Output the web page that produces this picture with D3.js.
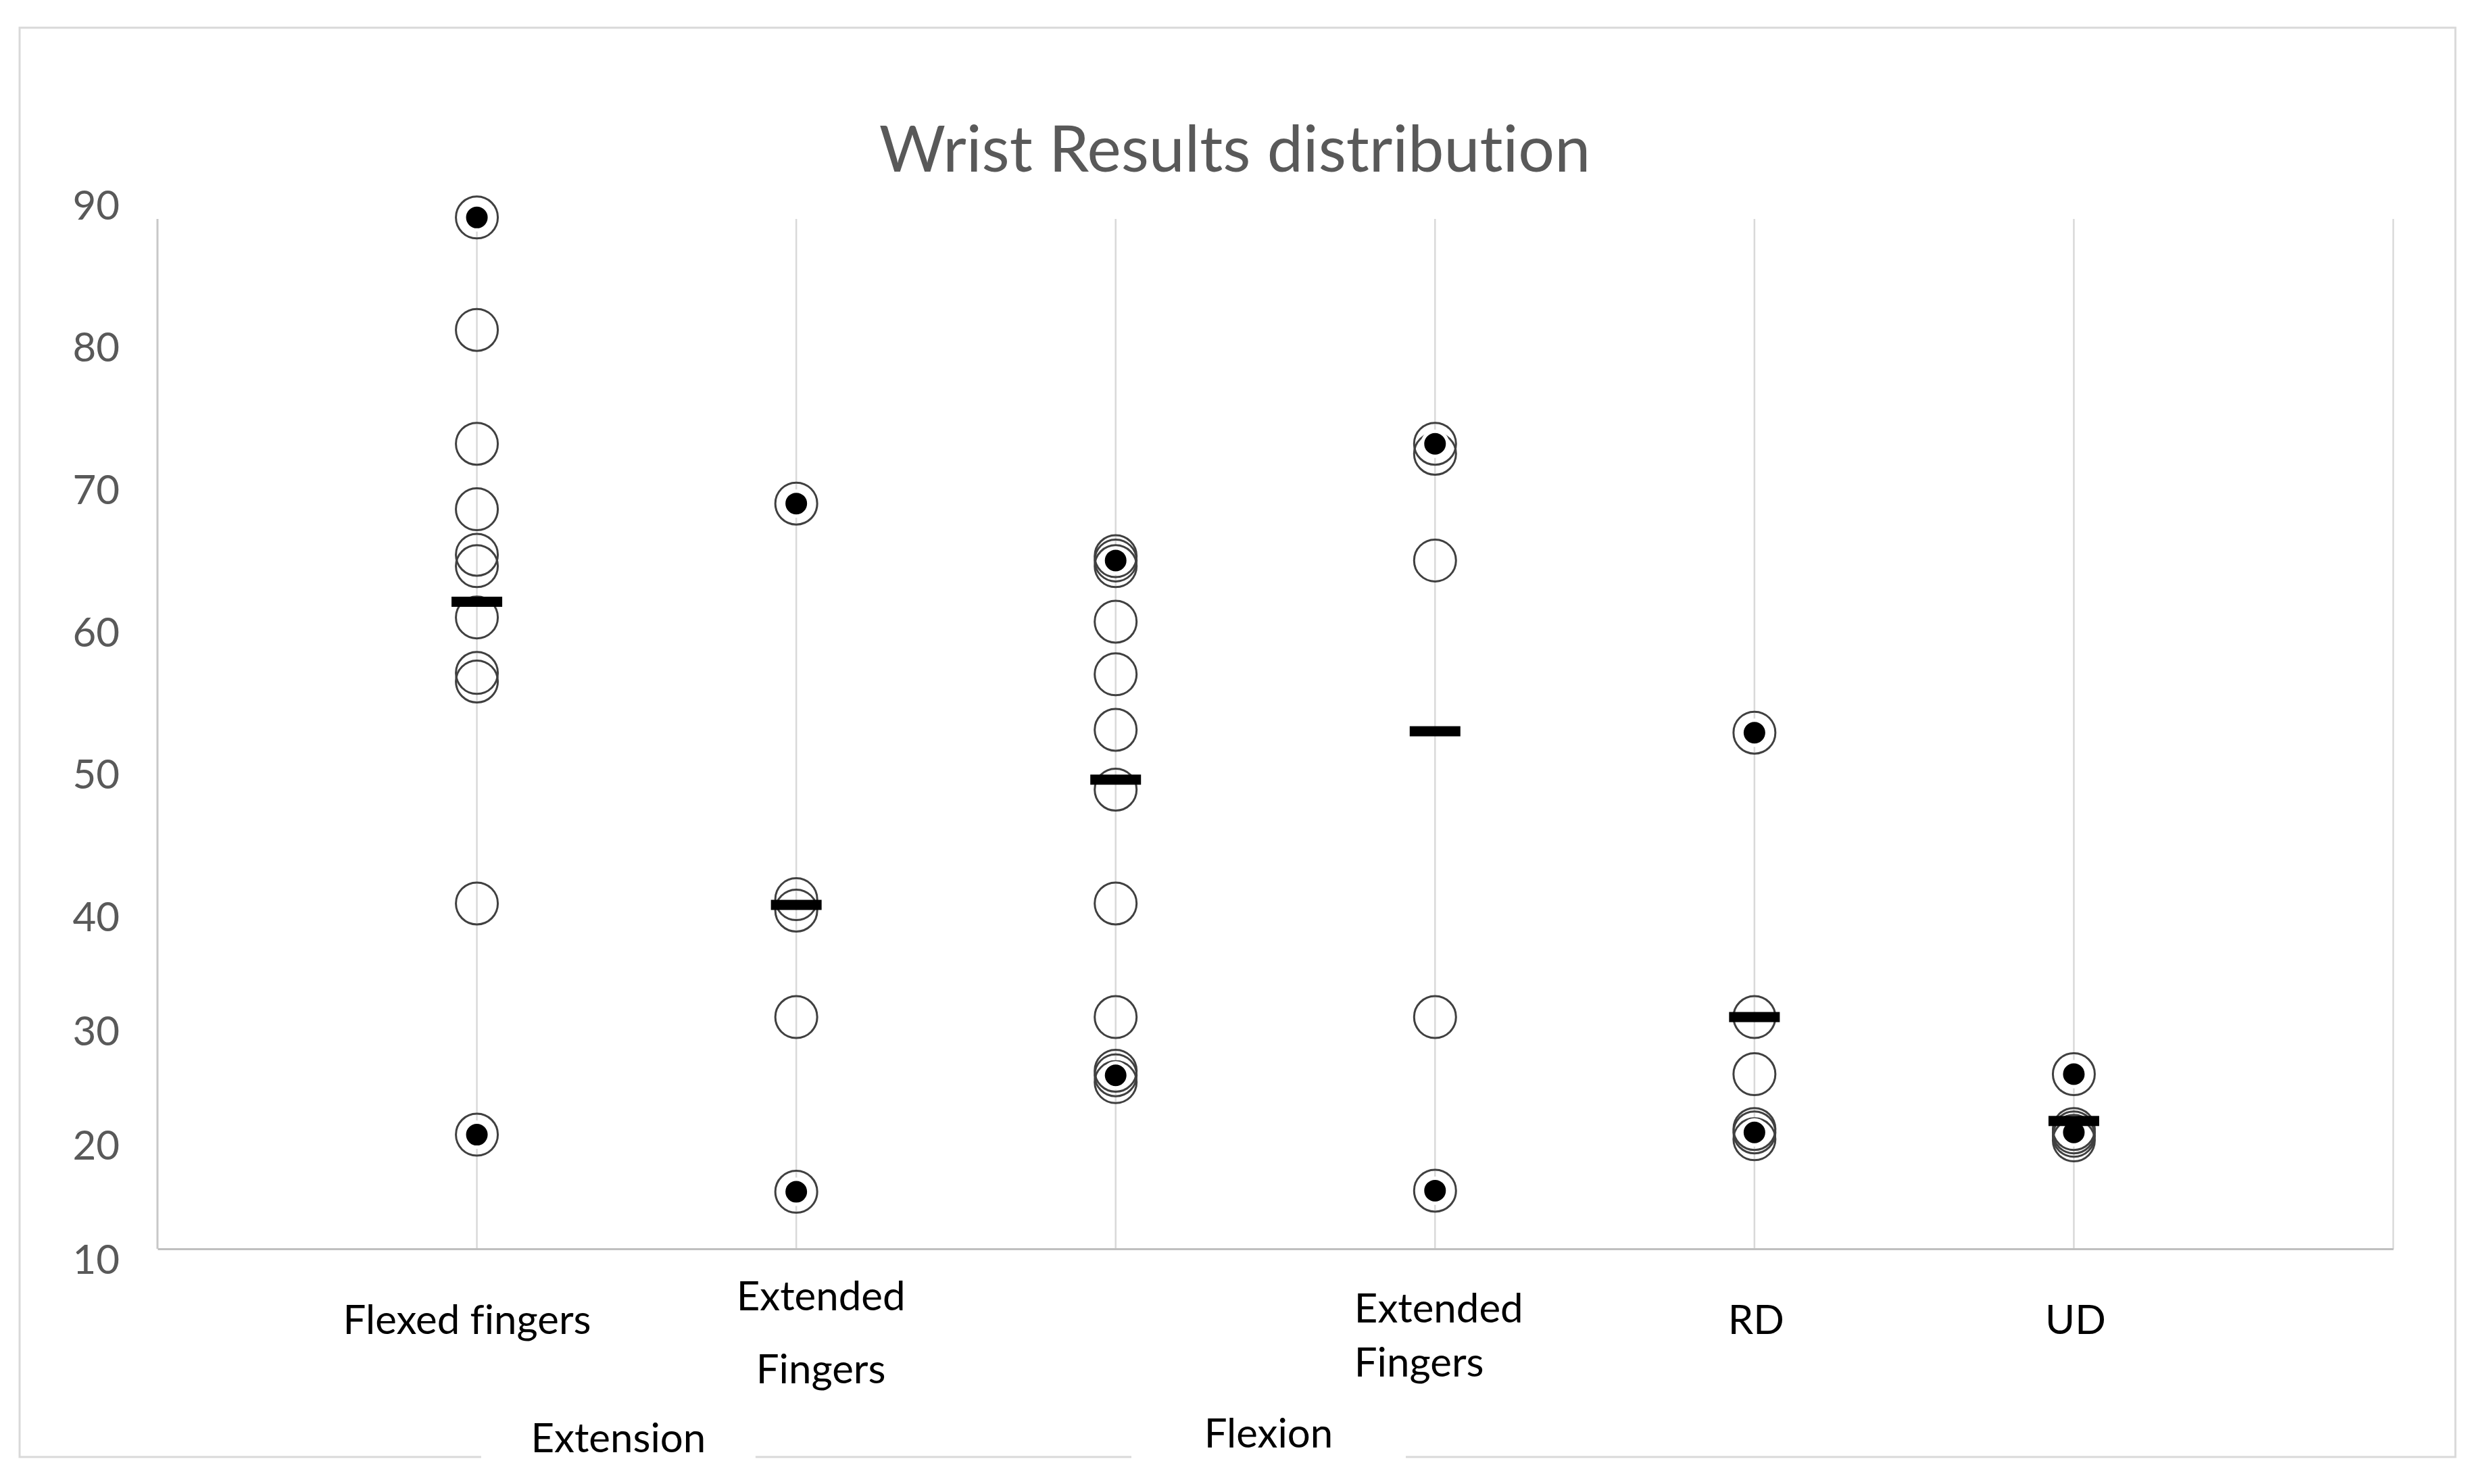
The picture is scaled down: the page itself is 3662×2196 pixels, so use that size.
<!DOCTYPE html>
<html>
<head>
<meta charset="utf-8">
<script src="https://cdn.jsdelivr.net/npm/d3@7"></script>
<style>
  body { margin: 0; background: #fff; }
  text { font-variant-ligatures: none; }
</style>
</head>
<body>
<div id="chart"></div>
<script>
// ---- data ----
var categories = ["Flexed fingers", "Extended Fingers", "", "Extended Fingers", "RD", "UD"];
var groups = ["Extension", "Flexion"];
var yTicks = [10, 20, 30, 40, 50, 60, 70, 80, 90];

// every measurement per category (open circles)
var flexedFingersExt = [89.2, 81.3, 73.3, 68.7, 65.5, 64.7, 61.1, 57.2, 56.6, 41.0, 21.0];
var extendedFingersExt = [69.1, 41.3, 40.5, 31.3, 16.0];
var flexedFingersFlex = [65.4, 65.1, 64.7, 60.8, 57.1, 53.2, 49.0, 41.0, 31.3, 26.6, 26.2, 25.6];
var extendedFingersFlex = [73.3, 72.6, 65.1, 31.3, 16.1];
var radialDev = [53.0, 31.3, 26.3, 21.5, 21.2, 20.6];
var ulnarDev = [26.3, 21.5, 21.2, 20.9, 20.5];

// highlighted extremes (filled dots) and mean dash per category
var maxValues = [89.2, 69.1, 65.1, 73.3, 53.0, 26.3];
var minValues = [21.0, 16.0, 26.2, 16.1, 21.2, 21.2];
var meanValues = [62.2, 40.9, 49.7, 53.1, 31.3, 22.2];

// ---- layout ----
var svgWidth = 3662;
var svgHeight = 2196;
var plotLeft = 233, plotRight = 3541, plotTop = 324, plotBottom = 1848;
var font = "Lato, 'Open Sans', sans-serif";

var svg = d3.select("#chart")
  .append("svg")
  .attr("width", svgWidth)
  .attr("height", svgHeight)
  .style("background", "#fff");

var x = d3.scaleLinear()
  .domain([0, categories.length + 1])
  .range([plotLeft, plotRight]);

// the printed value labels are spaced unevenly, so the scale bends at 40
var y = d3.scaleLinear()
  .domain([10, 40, 90])
  .range([1865, 1358, 305]);

// outer chart border, open at the bottom where the group labels sit
var border = { left: 29, right: 3633, top: 41, bottom: 2156 };
var groupCenters = [x(1.5) - 27, x(3.5) - 10];
var gapHalf = 203;
var borderPath = d3.path();
borderPath.moveTo(groupCenters[0] - gapHalf, border.bottom);
borderPath.lineTo(border.left, border.bottom);
borderPath.lineTo(border.left, border.top);
borderPath.lineTo(border.right, border.top);
borderPath.lineTo(border.right, border.bottom);
borderPath.lineTo(groupCenters[1] + gapHalf, border.bottom);
borderPath.moveTo(groupCenters[0] + gapHalf, border.bottom);
borderPath.lineTo(groupCenters[1] - gapHalf, border.bottom);

svg.append("path")
  .attr("d", borderPath.toString())
  .attr("fill", "none")
  .attr("stroke", "#d9d9d9")
  .attr("stroke-width", 3);

// title
svg.append("text")
  .attr("x", 1827)
  .attr("y", 254)
  .attr("text-anchor", "middle")
  .attr("font-family", font)
  .attr("font-size", 95)
  .attr("fill", "#595959")
  .text("Wrist Results distribution");

// vertical gridlines
svg.append("g")
  .selectAll("line")
  .data(d3.range(1, categories.length + 2))
  .enter()
  .append("line")
  .attr("x1", d => x(d))
  .attr("x2", d => x(d))
  .attr("y1", plotTop)
  .attr("y2", plotBottom)
  .attr("stroke", "#d9d9d9")
  .attr("stroke-width", 2.5);

// left axis line
svg.append("line")
  .attr("x1", plotLeft)
  .attr("x2", plotLeft)
  .attr("y1", plotTop)
  .attr("y2", plotBottom)
  .attr("stroke", "#c8c8c8")
  .attr("stroke-width", 3);

// y axis labels
var leftAxis = d3.axisLeft(y).tickValues(yTicks).tickSize(0).tickPadding(56);
var yAxisG = svg.append("g")
  .attr("transform", `translate(${plotLeft}, 0)`)
  .call(leftAxis);
yAxisG.select(".domain").remove();
yAxisG.selectAll("text")
  .attr("font-family", font)
  .attr("font-size", 60)
  .attr("fill", "#595959");

// bottom axis line + category labels
var bottomAxis = d3.axisBottom(x)
  .tickValues(d3.range(1, categories.length + 1))
  .tickSize(0)
  .tickSizeOuter(0)
  .tickFormat(d => categories[d - 1]);
var xAxisG = svg.append("g")
  .attr("transform", `translate(0, ${plotBottom})`)
  .call(bottomAxis);
xAxisG.select(".domain")
  .attr("stroke", "#bfbfbf")
  .attr("stroke-width", 3);

// Excel-like wrapping and nudging of the category labels
var labelTweak = [
  { dx: -15, anchor: "middle", lines: [126] },
  { dx: 36, anchor: "middle", lines: [91, 199] },
  { dx: 0, anchor: "middle", lines: [] },
  { dx: -120, anchor: "start", lines: [109, 189] },
  { dx: 2, anchor: "middle", lines: [126] },
  { dx: 2, anchor: "middle", lines: [126] }
];
xAxisG.selectAll(".tick text").each(function(d, i) {
  var t = d3.select(this);
  var label = categories[i];
  var tw = labelTweak[i];
  var words = label.split(" ");
  var parts = tw.lines.length > 1 ? [words[0], words.slice(1).join(" ")] : [label];
  t.text(null)
    .attr("y", null)
    .attr("dy", null)
    .attr("text-anchor", tw.anchor)
    .attr("font-family", font)
    .attr("font-size", 60)
    .attr("fill", "#000");
  tw.lines.forEach(function(by, k) {
    t.append("tspan")
      .attr("x", tw.dx)
      .attr("y", by)
      .text(parts[k]);
  });
});

// group labels
svg.append("g")
  .selectAll("text")
  .data(groups)
  .enter()
  .append("text")
  .attr("x", (d, i) => groupCenters[i])
  .attr("y", (d, i) => i === 0 ? 2149 : 2142)
  .attr("text-anchor", "middle")
  .attr("font-family", font)
  .attr("font-size", 60)
  .attr("fill", "#000")
  .text(d => d);

// open circles: every measurement
var series = [flexedFingersExt, extendedFingersExt, flexedFingersFlex,
              extendedFingersFlex, radialDev, ulnarDev];
var points = [];
series.forEach(function(vals, i) {
  vals.forEach(function(v) { points.push({ cat: i + 1, value: v }); });
});

svg.append("g")
  .selectAll("circle")
  .data(points)
  .enter()
  .append("circle")
  .attr("cx", d => x(d.cat))
  .attr("cy", d => y(d.value))
  .attr("r", 31)
  .attr("fill", "none")
  .attr("stroke", "#404040")
  .attr("stroke-width", 3);

// filled dots: max and min
var extremes = [];
maxValues.forEach(function(v, i) { extremes.push({ cat: i + 1, value: v }); });
minValues.forEach(function(v, i) { extremes.push({ cat: i + 1, value: v }); });

svg.append("g")
  .selectAll("circle")
  .data(extremes)
  .enter()
  .append("circle")
  .attr("cx", d => x(d.cat))
  .attr("cy", d => y(d.value))
  .attr("r", 18.5)
  .attr("fill", "#000")
  .attr("stroke", "#fff")
  .attr("stroke-width", 5);

// mean dashes
svg.append("g")
  .selectAll("rect")
  .data(meanValues)
  .enter()
  .append("rect")
  .attr("x", (d, i) => x(i + 1) - 37.5)
  .attr("y", d => y(d) - 7.5)
  .attr("width", 75)
  .attr("height", 15)
  .attr("fill", "#000");
</script>
</body>
</html>
